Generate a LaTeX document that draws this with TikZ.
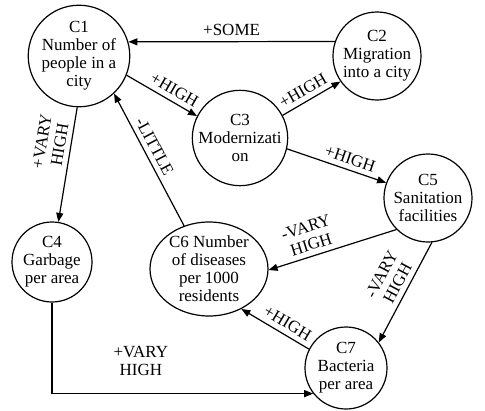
\documentclass[tikz,border=0pt]{standalone}
\usepackage{fontspec}
\setmainfont{Liberation Serif}
\usetikzlibrary{arrows.meta,shapes.geometric}
\begin{document}
\begin{tikzpicture}[x=1pt,y=1pt,
  every node/.style={font=\fontsize{17}{18}\selectfont},
  concept/.style={draw, circle, line width=1.2pt, inner sep=0pt, align=center},
  oval/.style={draw, ellipse, line width=1.2pt, inner sep=0pt, align=center},
  link/.style={line width=1.2pt, -{Triangle[length=9pt,width=7pt]}},
  lab/.style={sloped, above=2pt, inner sep=3pt, align=center}]
\useasboundingbox (0,0) rectangle (485,-410);
\node[concept, minimum size=100pt] (c1) at (79,-56) {C1\\Number of\\people in a\\city};
\node[concept, minimum size=88pt] (c2) at (377,-56) {C2\\Migration\\into a city};
\node[concept, minimum size=94pt] (c3) at (240,-138) {C3\\Modernizati\\on};
\node[concept, minimum size=80pt] (c4) at (52,-262) {C4\\Garbage\\per area};
\node[concept, minimum size=88pt] (c5) at (428,-198) {C5\\Sanitation\\facilities};
\node[oval, minimum width=118pt, minimum height=94pt] (c6) at (209,-269) {C6 Number\\of diseases\\per 1000\\residents};
\node[concept, minimum size=82pt] (c7) at (346,-368) {C7\\Bacteria\\per area};

\draw[link] (c2.161) -- node[lab,pos=0.5]{+SOME} (c1.16);
\draw[link] (c1.-22) -- node[lab,pos=0.6]{+HIGH} (c3.153);
\draw[link] (c3.28) -- node[lab,pos=0.45]{+HIGH} (c2.215);
\draw[link] (c3.-13) -- node[lab,pos=0.6]{+HIGH} (c5.160);
\draw[link] (c5.225) -- node[lab,pos=0.64]{-VARY\\HIGH} (c6.-1);
\draw[link] (c5.-85) -- node[lab,pos=0.46]{-VARY\\HIGH} (c7.38);
\draw[link] (c7.153) -- node[lab,pos=0.4]{+HIGH} (c6.-51);
\draw[link] (c6.120) -- node[lab,pos=0.56]{-LITTLE} (c1.-47);
\draw[link] (c1.-92) -- node[lab,pos=0.34]{+VARY\\HIGH} (c4.81);
\draw[link] (c4.south) |- node[pos=0.67, above=14pt, align=center]{+VARY\\HIGH} (c7.218);
\end{tikzpicture}
\end{document}
